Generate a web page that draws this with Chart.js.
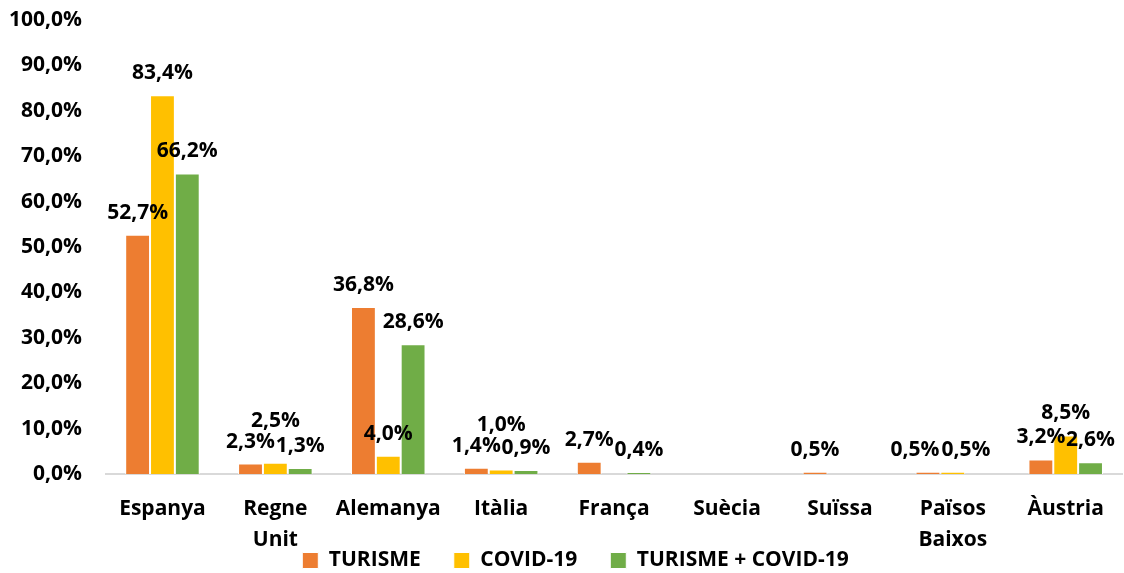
<!DOCTYPE html>
<html>
<head>
<meta charset="utf-8">
<script src="https://cdn.jsdelivr.net/npm/chart.js@4.4.1/dist/chart.umd.min.js"></script>
<style>
  html, body { margin: 0; padding: 0; background: #ffffff; }
  #wrap { width: 1124px; height: 573px; position: relative; }
</style>
</head>
<body>
<div id="wrap"><canvas id="c"></canvas></div>
<script>
const categories = ['Espanya', ['Regne', 'Unit'], 'Alemanya', 'Itàlia', 'França', 'Suècia', 'Suïssa', ['Països', 'Baixos'], 'Àustria'];
const seriesNames = ['TURISME', 'COVID-19', 'TURISME + COVID-19'];
const turisme = [52.7, 2.3, 36.8, 1.4, 2.7, 0, 0.5, 0.5, 3.2];
const covid = [83.4, 2.5, 4.0, 1.0, 0, 0, 0, 0.5, 8.5];
const turismeCovid = [66.2, 1.3, 28.6, 0.9, 0.4, 0, 0, 0, 2.6];
const yTicks = [0, 10, 20, 30, 40, 50, 60, 70, 80, 90, 100];

const colors = ['#ED7D31', '#FFC000', '#70AD47'];
const FONT = '"Open Sans", "Noto Sans", sans-serif';
const FS = 21;
const fmt = v => v.toFixed(1).replace('.', ',') + '%';

const LABEL_OFFSET = 22;
const LABEL_H = 21;

const barLabels = {
  id: 'barLabels',
  afterDatasetsDraw(chart) {
    const ctx = chart.ctx;
    ctx.save();
    ctx.font = 'bold ' + FS + 'px ' + FONT;
    ctx.fillStyle = '#000000';
    ctx.textAlign = 'center';
    ctx.textBaseline = 'middle';
    const n = chart.data.labels.length;
    const overlap = (a, b) => Math.abs(a.x - b.x) < (a.w + b.w) / 2 && Math.abs(a.y - b.y) < (a.h + b.h) / 2;
    for (let i = 0; i < n; i++) {
      const items = [];
      chart.data.datasets.forEach((ds, d) => {
        const v = ds.data[i];
        if (!v) return;
        const el = chart.getDatasetMeta(d).data[i];
        const text = fmt(v);
        items.push({ d, x: el.x, y: el.y - LABEL_OFFSET, w: ctx.measureText(text).width, h: LABEL_H, text });
      });
      const mid = items.find(it => it.d === 1);
      if (mid && items.length === 3) {
        const others = items.filter(it => it !== mid);
        if (others.some(o => overlap(mid, o))) {
          mid.y = Math.min(...others.map(o => o.y)) - LABEL_H;
        }
      }
      for (let a = 0; a < items.length; a++) {
        for (let b = a + 1; b < items.length; b++) {
          const A = items[a], B = items[b];
          if (overlap(A, B)) {
            const need = (A.w + B.w) / 2 - Math.abs(B.x - A.x) + 2;
            A.x -= need / 2;
            B.x += need / 2;
          }
        }
      }
      items.forEach(it => ctx.fillText(it.text, it.x, it.y));
    }
    ctx.restore();
  }
};

const layoutTweak = {
  id: 'layoutTweak',
  afterLayout(chart) {
    const lg = chart.legend;
    if (lg) {
      lg.left += 9; lg.right += 9;
      lg.top += 8; lg.bottom += 8;
    }
    const x = chart.scales.x;
    x.bottom = chart.height;
    x.height = x.bottom - x.top;
  }
};

new Chart(document.getElementById('c'), {
  type: 'bar',
  data: {
    labels: categories,
    datasets: [
      { label: seriesNames[0], data: turisme, backgroundColor: colors[0] },
      { label: seriesNames[1], data: covid, backgroundColor: colors[1] },
      { label: seriesNames[2], data: turismeCovid, backgroundColor: colors[2] }
    ].map(ds => Object.assign(ds, { borderColor: '#ffffff', borderWidth: 1, borderSkipped: 'bottom' }))
  },
  options: {
    responsive: true,
    maintainAspectRatio: false,
    animation: false,
    devicePixelRatio: 1,
    layout: { padding: { top: 20, right: 1, left: 10, bottom: 0 } },
    datasets: { bar: { categoryPercentage: 0.66, barPercentage: 1.0 } },
    scales: {
      x: {
        grid: { display: false, drawTicks: false },
        border: { display: true, color: '#D9D9D9', width: 2 },
        ticks: { color: '#000000', font: { family: FONT, size: FS, weight: 'bold', lineHeight: 1.45 }, padding: 20, maxRotation: 0, autoSkip: false },
        afterFit(scale) { scale.height = 35; }
      },
      y: {
        min: 0, max: 100,
        afterBuildTicks(scale) { scale.ticks = yTicks.map(v => ({ value: v })); },
        grid: { display: false, drawTicks: false },
        border: { display: false },
        ticks: { color: '#000000', font: { family: FONT, size: FS, weight: 'bold' }, padding: 24, callback: v => fmt(v) },
        afterFit(scale) { scale.width = 96; scale.paddingTop = 12; scale.paddingBottom = 12; }
      }
    },
    plugins: {
      legend: {
        position: 'bottom',
        labels: { boxWidth: 16, boxHeight: 16, padding: 33, color: '#000000', font: { family: FONT, size: FS, weight: 'bold' } }
      },
      tooltip: { enabled: false }
    }
  },
  plugins: [barLabels, layoutTweak]
});
</script>
</body>
</html>
